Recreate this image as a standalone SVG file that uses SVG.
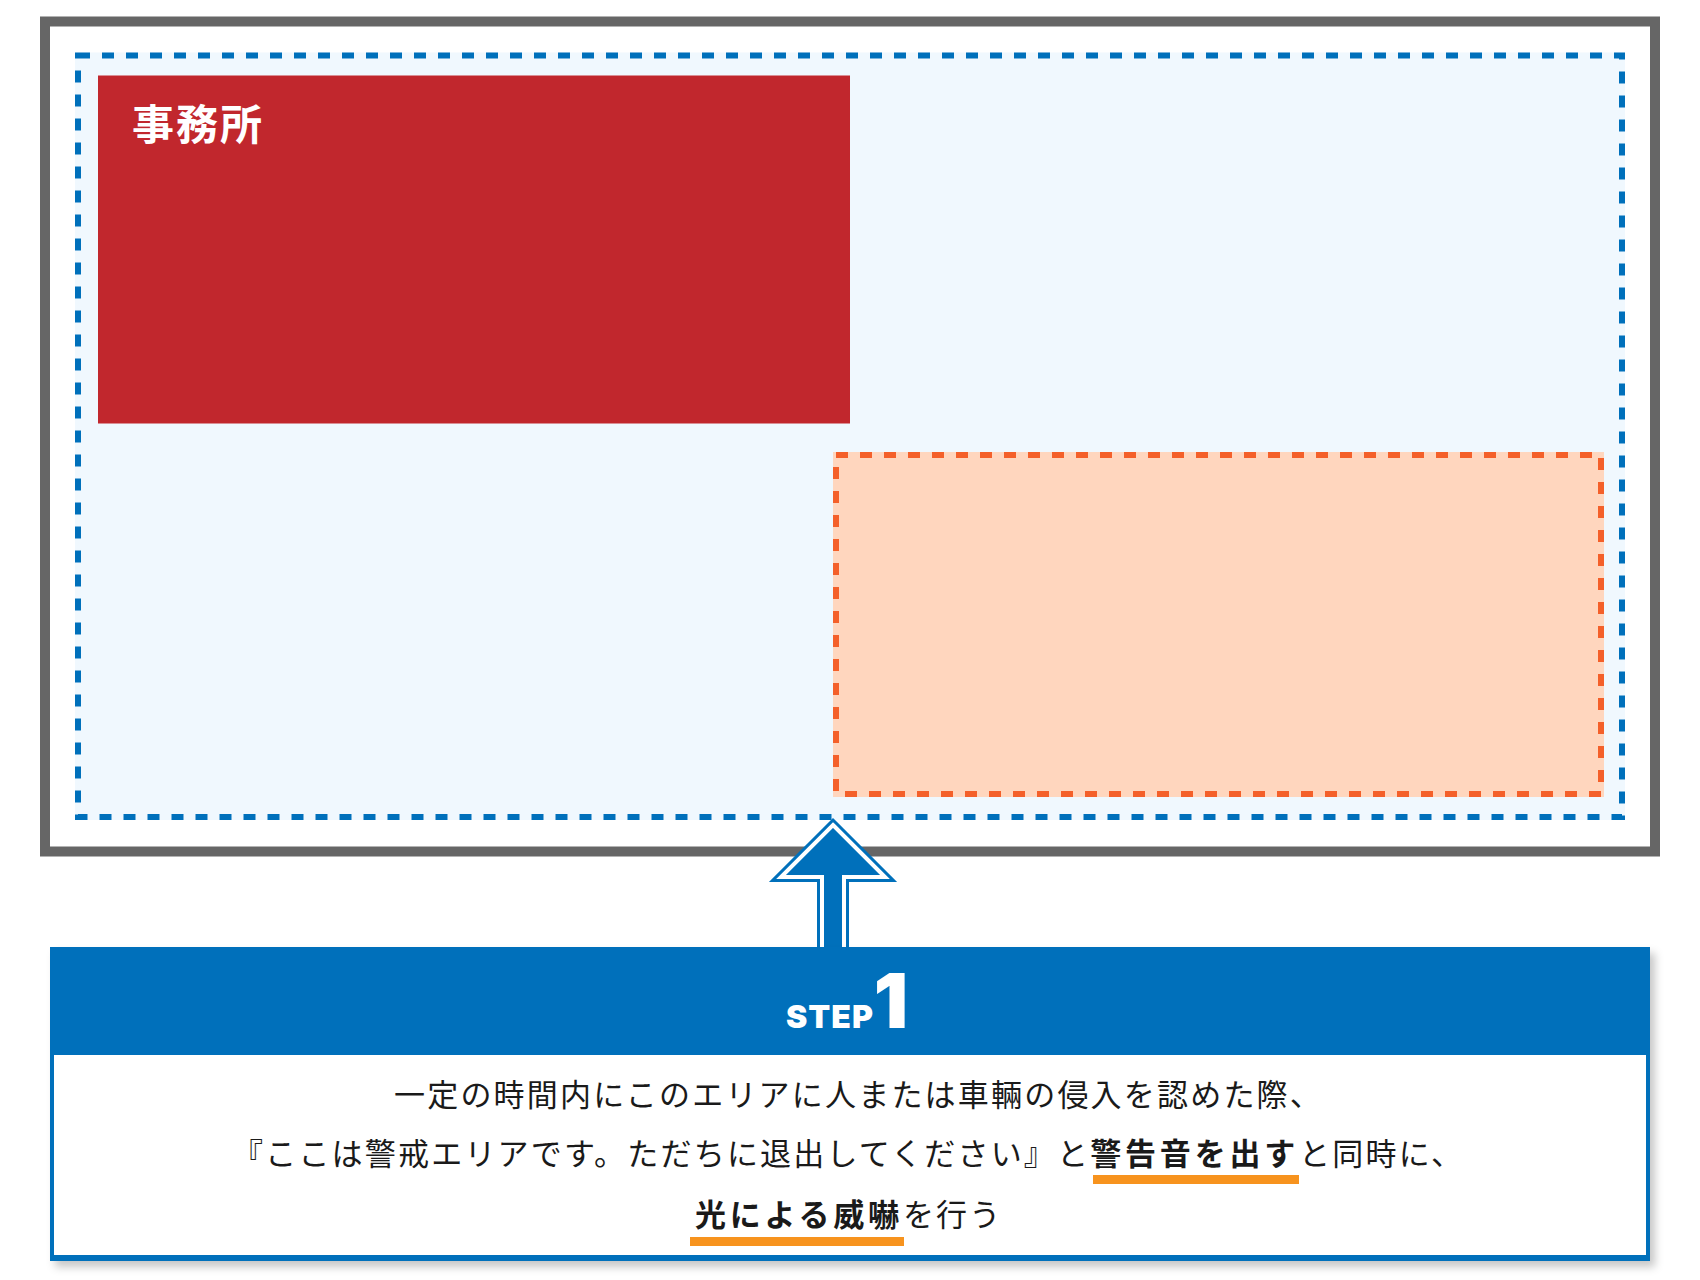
<svg xmlns="http://www.w3.org/2000/svg" width="1700" height="1280" viewBox="0 0 1700 1280">
<defs>
<style>
.jp{font-family:"Noto Sans CJK JP","Noto Sans",sans-serif;}
.body{font-size:31px;fill:#1a1a1a;letter-spacing:2.2px;}
.b{font-weight:700;letter-spacing:3.8px;}
.ul{fill:#F7931E;}
.step{font-family:Inter,"Liberation Sans",sans-serif;font-weight:900;fill:#fff;}
</style>
<filter id="sh" x="-5%" y="-10%" width="110%" height="125%">
<feDropShadow dx="5" dy="6" stdDeviation="4" flood-color="#000" flood-opacity="0.22"/>
</filter>
</defs>
<rect width="1700" height="1280" fill="#fff"/>
<g id="site-frame">
<rect x="45" y="21.5" width="1610" height="830" fill="#fff" stroke="#666666" stroke-width="10"/>
</g>
<g id="alert-area">
<rect x="75" y="52.5" width="1550" height="767.5" fill="#F0F8FE"/>
<rect x="78" y="55.5" width="1544" height="761.5" fill="none" stroke="#0070BB" stroke-width="6" stroke-dasharray="12 12"/>
</g>
<g id="office">
<rect x="98" y="75.5" width="752" height="348" fill="#C1272D"/>
<text class="jp" x="132" y="140" font-size="42" font-weight="700" fill="#fff" letter-spacing="2">事務所</text>
</g>
<g id="zone">
<rect x="833" y="452" width="771" height="345" fill="#FFD6BE"/>
<rect x="836" y="455" width="765" height="339" fill="none" stroke="#F4602A" stroke-width="6" stroke-dasharray="12 12"/>
</g>
<g id="connectors">
<g id="arrow-up">
<path d="M833,825 L885,877 L844,877 L844,960 L822,960 L822,877 L781,877 Z" fill="#0070BB" stroke="#0070BB" stroke-width="10" stroke-linejoin="miter"/>
<path d="M833,825 L885,877 L844,877 L844,960 L822,960 L822,877 L781,877 Z" fill="none" stroke="#fff" stroke-width="4"/>
</g>
</g>
<g id="step1">
<rect x="50" y="947" width="1600" height="314" fill="#0070BB" filter="url(#sh)"/>
<rect x="54" y="1055" width="1592" height="200" fill="#fff"/>
<text class="step" x="786" y="1028" font-size="32" letter-spacing="1">STEP</text>
<text class="step" x="908" y="1028" font-size="76" text-anchor="end">1</text>
<text class="jp body" x="394" y="1106">一定の時間内にこのエリアに人または車輛の侵入を認めた際、</text>
<text class="jp body" x="232" y="1165">『ここは警戒エリアです。ただちに退出してください』と<tspan class="b">警告音を出す</tspan>と同時に、</text>
<text class="jp body" x="695" y="1226"><tspan class="b">光による威嚇</tspan>を行う</text>
<rect class="ul" x="1093" y="1175" width="206" height="9"/>
<rect class="ul" x="690" y="1237" width="214" height="9"/>
</g>
</svg>
